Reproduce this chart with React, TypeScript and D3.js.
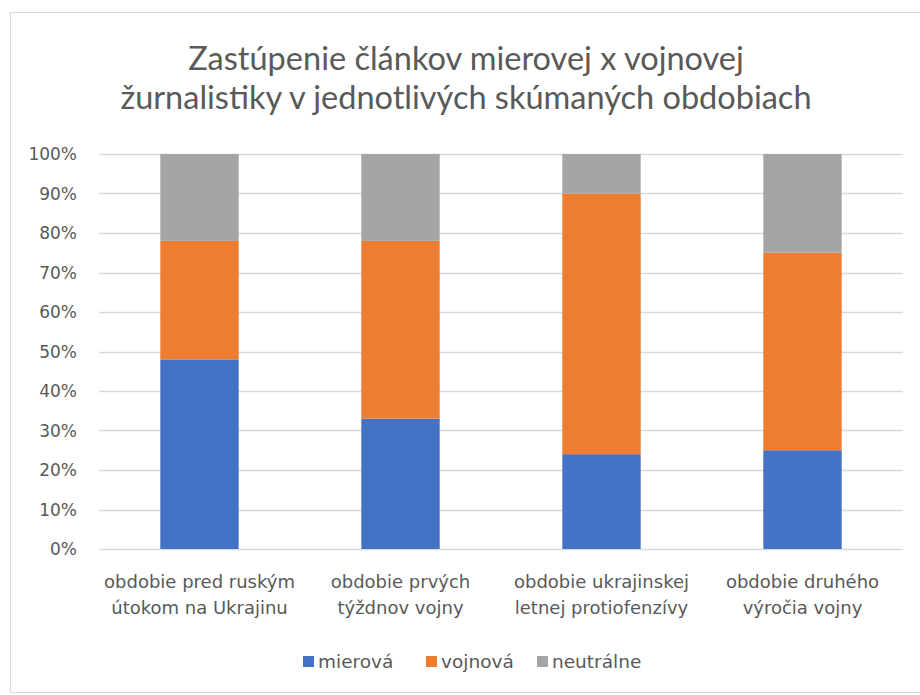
import React from "react";
import * as d3 from "d3";

const categories: string[][] = [
    ["obdobie pred ruským", "útokom na Ukrajinu"],
    ["obdobie prvých", "týždnov vojny"],
    ["obdobie ukrajinskej", "letnej protiofenzívy"],
    ["obdobie druhého", "výročia vojny"],
];

const seriesNames = ["mierová", "vojnová", "neutrálne"];
const mierova = [48, 33, 24, 25];
const vojnova = [30, 45, 66, 50];
const neutralne = [22, 22, 10, 25];

const yTicks = [0, 0.1, 0.2, 0.3, 0.4, 0.5, 0.6, 0.7, 0.8, 0.9, 1];

const colors = ["#4472C4", "#ED7D31", "#A5A5A5"];
const textColor = "#595959";
const titleFont = "Lato, 'Open Sans', sans-serif";
const labelFont = "'DejaVu Sans', sans-serif";

type Row = { [key: string]: number };

const width = 920;
const height = 695;
const plot = { left: 99, right: 903, top: 154, bottom: 549 };

export default function App() {
    const rows: Row[] = categories.map((_, i) => {
        const total = mierova[i] + vojnova[i] + neutralne[i];
        return {
            "mierová": mierova[i] / total,
            "vojnová": vojnova[i] / total,
            "neutrálne": neutralne[i] / total,
        };
    });

    const series = d3.stack<Row, string>().keys(seriesNames)(rows);

    const x = d3.scaleBand<number>()
        .domain(d3.range(categories.length))
        .range([plot.left, plot.right])
        .paddingInner(0.61)
        .paddingOuter(0.305);
    const y = d3.scaleLinear().domain([0, 1]).range([plot.bottom, plot.top]);
    const pct = d3.format(".0%");

    // legend swatch positions
    const legendX = [303, 426, 537];

    return (
        <svg width={width} height={height}
            style={{ position: "absolute", left: 0, top: 0, background: "#fff" }}
            fontFamily={labelFont}>
            <rect x={10.5} y={12.5} width={920} height={680} fill="#fff" stroke="#D9D9D9" />

            <g fontFamily={titleFont} fontSize={32.5} fill={textColor} textAnchor="middle">
                <text x={466} y={70}>Zastúpenie článkov mierovej x vojnovej</text>
                <text x={466} y={109}>žurnalistiky v jednotlivých skúmaných obdobiach</text>
            </g>

            {yTicks.map(t => (
                <g key={t}>
                    <line x1={plot.left} x2={plot.right} y1={Math.round(y(t)) + 0.5} y2={Math.round(y(t)) + 0.5}
                        stroke="#D9D9D9" strokeWidth={1.3} />
                    <text x={77} y={y(t) + 6} textAnchor="end" fontSize={17} fill={textColor}>{pct(t)}</text>
                </g>
            ))}

            {series.map((s, si) => (
                <g key={s.key} fill={colors[si]}>
                    {s.map((d, i) => (
                        <rect key={i} x={x(i)} y={y(d[1])} width={x.bandwidth()} height={y(d[0]) - y(d[1])} />
                    ))}
                </g>
            ))}

            {categories.map((lines, i) => (
                <text key={i} textAnchor="middle" fontSize={18} fill={textColor}>
                    {lines.map((l, j) => (
                        <tspan key={j} x={(x(i) ?? 0) + x.bandwidth() / 2} y={588 + j * 26}>{l}</tspan>
                    ))}
                </text>
            ))}

            {seriesNames.map((name, i) => (
                <g key={name}>
                    <rect x={legendX[i]} y={656} width={11} height={11} fill={colors[i]} />
                    <text x={legendX[i] + 15} y={668} fontSize={18.5} fill={textColor}>{name}</text>
                </g>
            ))}
        </svg>
    );
}
